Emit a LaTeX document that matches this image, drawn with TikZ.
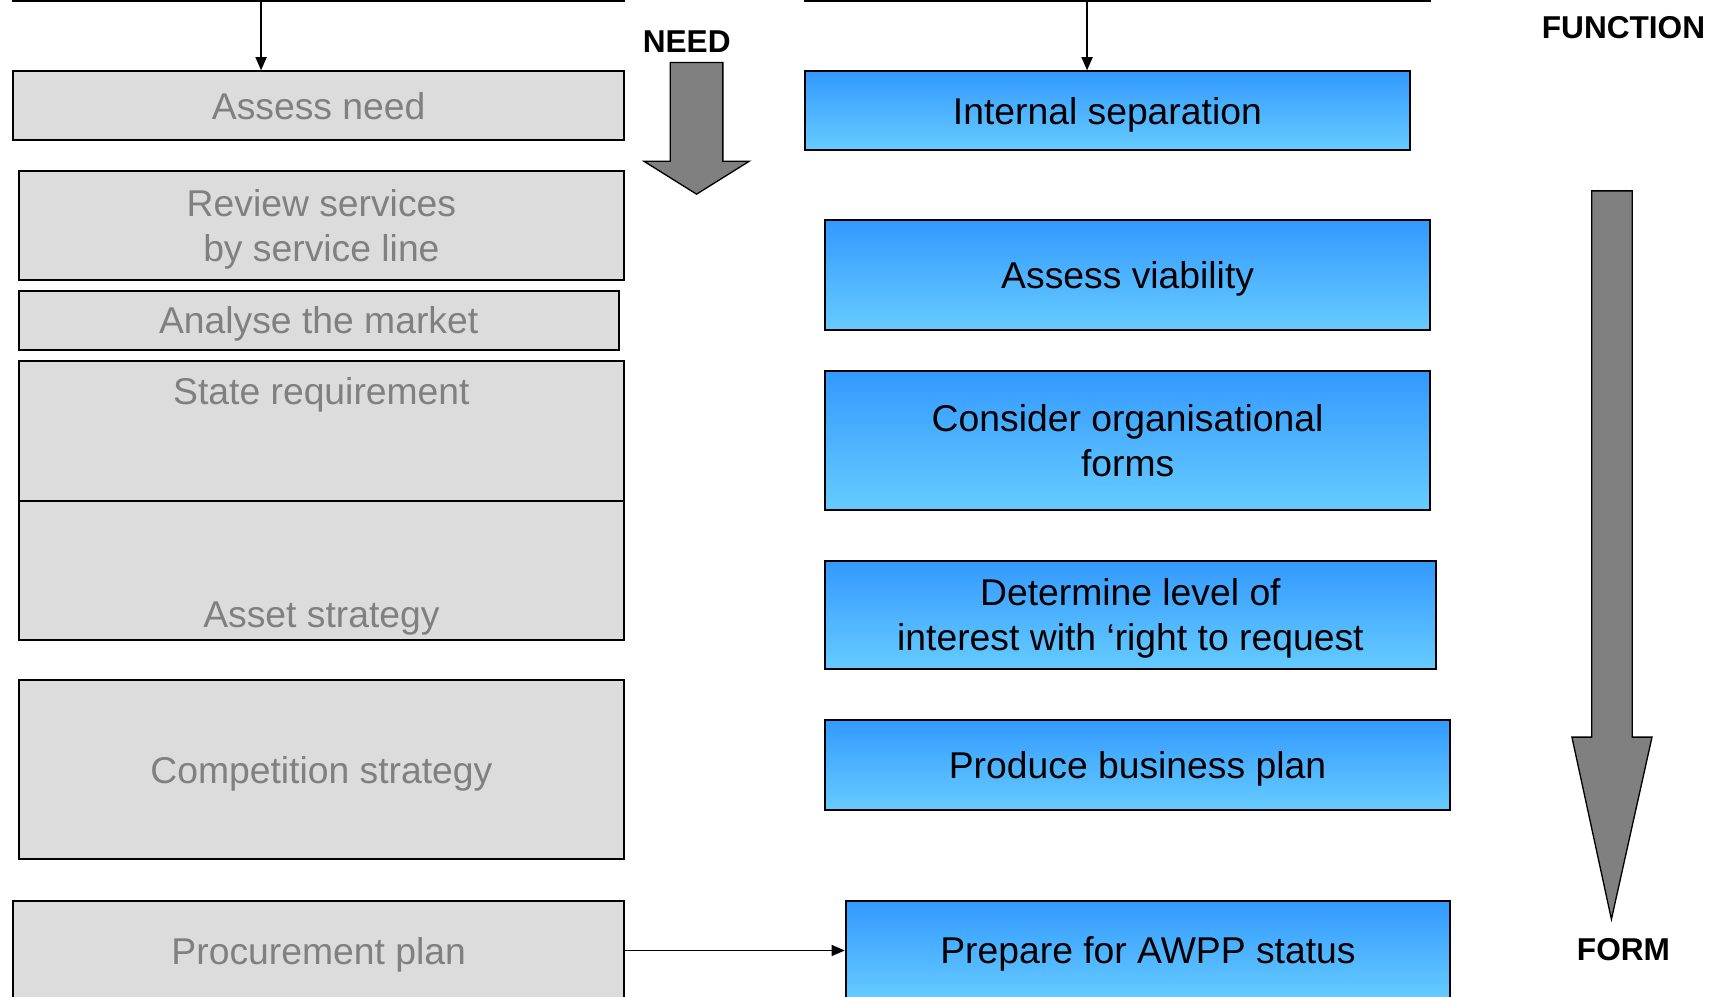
\documentclass[tikz,border=0pt]{standalone}
\usepackage{fontspec}
\setmainfont{Liberation Sans}
\usetikzlibrary{arrows.meta,calc}
\definecolor{boxgrey}{HTML}{DCDCDC}
\definecolor{txtgrey}{HTML}{808080}
\definecolor{bluetop}{HTML}{3399FF}
\definecolor{bluebot}{HTML}{66CCFF}
\definecolor{arrgrey}{HTML}{808080}
\begin{document}
\begin{tikzpicture}[x=0.5pt,y=-0.5pt,
  boxfont/.style={font=\fontsize{17}{20.5}\selectfont, text depth=0pt},
  greybox/.style={draw=black, line width=0.9pt, fill=boxgrey, text=txtgrey, boxfont, align=center, inner sep=0pt},
  greytext/.style={text=txtgrey, boxfont, align=center, inner sep=0pt},
  bluebox/.style={draw=black, line width=0.9pt, top color=bluetop, bottom color=bluebot, text=black, boxfont, align=center, inner sep=0pt},
  conn/.style={line width=0.8pt, -{Triangle[length=6pt,width=5pt]}},
  bigarrow/.style={draw=black, line width=0.6pt, fill=arrgrey, line join=miter},
  lbl/.style={font=\bfseries\fontsize{14.4}{17}\selectfont, inner sep=0pt}]
\useasboundingbox (0,0) rectangle (1568,908);
\clip (0,0) rectangle (1568,908);

% left column
\node[greybox, minimum width=278.5pt, minimum height=30pt] (topL) at (290.5,-29) {};
\node[greybox, minimum width=278.5pt, minimum height=31.5pt] (assess) at (290.5,96.5) {Assess need};
\node[greybox, minimum width=276pt, minimum height=49.5pt] (review) at (293,205.5) {Review services\\by service line};
\node[greybox, minimum width=273.5pt, minimum height=27pt] (analyse) at (290.5,292) {Analyse the market};
\node[greybox, minimum width=276pt, minimum height=64pt] (state) at (293,393) {};
\node[greybox, minimum width=276pt, minimum height=63pt] (asset) at (293,520) {};
\node[greytext] (statetxt) at (293,356) {State requirement};
\node[greytext] (assettxt) at (293,560) {Asset strategy};
\node[greybox, minimum width=276pt, minimum height=81.5pt] (compet) at (293,701.5) {Competition strategy};
\node[greybox, minimum width=278.5pt, minimum height=45.5pt] (procure) at (290.5,866.5) {Procurement plan};

% right column
\node[bluebox, minimum width=285pt, minimum height=30pt] (topR) at (1019,-29) {};
\node[bluebox, minimum width=275.5pt, minimum height=36pt] (isep) at (1009.5,101) {Internal separation};
\node[bluebox, minimum width=276pt, minimum height=50pt] (viab) at (1028,251) {Assess viability};
\node[bluebox, minimum width=276pt, minimum height=63.5pt] (orgf) at (1028,401.5) {Consider organisational\\forms};
\node[bluebox, minimum width=278.5pt, minimum height=49.5pt] (determ) at (1030.5,560.5) {Determine level of\\interest with `right to request};
\node[bluebox, minimum width=285pt, minimum height=41pt] (bplan) at (1037,697) {Produce business plan};
\node[bluebox, minimum width=275.5pt, minimum height=45.5pt] (awpp) at (1046.5,866.5) {Prepare for AWPP status};

% labels
\node[lbl] (need) at (626,38) {NEED};
\node[lbl] (func) at (1480,25) {FUNCTION};
\node[lbl] (form) at (1480,866) {FORM};

% big arrows
\draw[bigarrow] (611,57) -- (659,57) -- (659,147) -- (683,147) -- (635,177) -- (587,147) -- (611,147) -- cycle;
\draw[bigarrow] (1451,174) -- (1488,174) -- (1488,672) -- (1506,672) -- (1469,838) -- (1433,672) -- (1451,672) -- cycle;

% connectors
\draw[conn] ($(topL.south)+(-52.5,0)$) -- ($(assess.north)+(-52.5,0)$);
\draw[conn] ($(topR.south)+(-28,0)$) -- ($(isep.north)+(-18.5,0)$);
\draw[conn] (procure.east) -- (awpp.west);
\end{tikzpicture}
\end{document}
